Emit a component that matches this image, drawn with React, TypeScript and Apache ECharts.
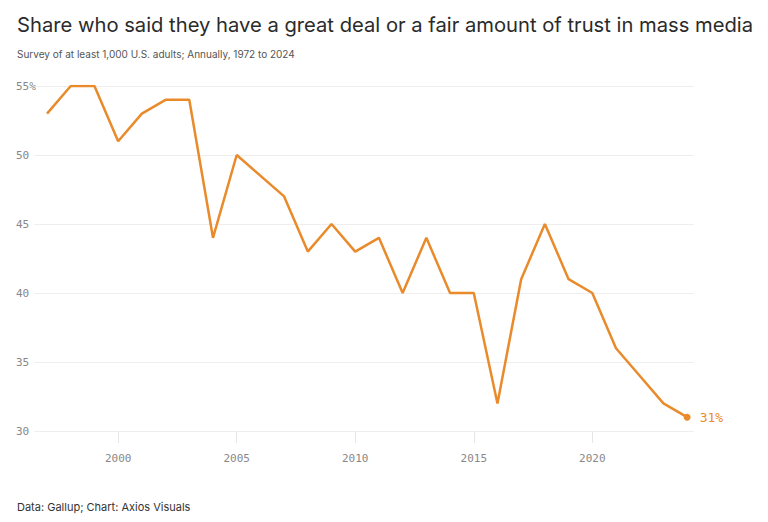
import React, { useEffect, useRef } from "react";
import * as echarts from "echarts";

const years = [1997, 1998, 1999, 2000, 2001, 2002, 2003, 2004, 2005, 2007, 2008, 2009, 2010, 2011, 2012, 2013, 2014, 2015, 2016, 2017, 2018, 2019, 2020, 2021, 2022, 2023, 2024];
const trust = [53, 55, 55, 51, 53, 54, 54, 44, 50, 47, 43, 45, 43, 44, 40, 44, 40, 40, 32, 41, 45, 41, 40, 36, 34, 32, 31];
const xTicks = [2000, 2005, 2010, 2015, 2020];

const ORANGE = "#E98A2B";
const MONO = "'DejaVu Sans Mono', 'Liberation Mono', monospace";
const SANS = "Inter, 'Noto Sans', sans-serif";

export default function App() {
  const ref = useRef<HTMLDivElement>(null);
  useEffect(() => {
    if (!ref.current) return;
    const chart = echarts.init(ref.current, null, { renderer: "svg" });
    const last = years.length - 1;
    const data = years.map((y, i) =>
      i === last
        ? {
            value: [y, trust[i]],
            symbol: "circle",
            symbolSize: 7,
            label: {
              show: true,
              position: "right",
              distance: 9,
              formatter: () => `${trust[i]}%`,
              color: ORANGE,
              fontFamily: MONO,
              fontSize: 13,
            },
          }
        : { value: [y, trust[i]] }
    );
    chart.setOption({
      animation: false,
      backgroundColor: "#ffffff",
      title: [
        {
          text: "Share who said they have a great deal or a fair amount of trust in mass media",
          left: 12,
          top: 9,
          textStyle: { fontFamily: SANS, fontSize: 20.2, fontWeight: 400, color: "#2b2b2b" },
        },
        {
          text: "Survey of at least 1,000 U.S. adults; Annually, 1972 to 2024",
          left: 12,
          top: 44,
          textStyle: { fontFamily: SANS, fontSize: 10, fontWeight: 400, color: "#555555" },
        },
        {
          text: "Data: Gallup; Chart: Axios Visuals",
          left: 12,
          top: 496,
          textStyle: { fontFamily: SANS, fontSize: 11, fontWeight: 400, color: "#333333" },
        },
      ],
      grid: { left: 34, right: 74, top: 86, bottom: 91 },
      xAxis: {
        type: "value",
        min: 1996.45,
        max: 2024.29,
        axisLine: { show: false },
        splitLine: { show: false },
        axisTick: {
          show: true,
          customValues: xTicks,
          length: 12,
          lineStyle: { color: "#e6e6e6" },
        },
        axisLabel: {
          customValues: xTicks,
          color: "#888888",
          fontFamily: MONO,
          fontSize: 11,
          margin: 22,
          formatter: (v: number) => String(v),
        },
      },
      yAxis: {
        type: "value",
        min: 30,
        max: 55,
        interval: 5,
        axisLine: { show: false },
        axisTick: { show: false },
        splitLine: { lineStyle: { color: "#eeeeee", width: 1 } },
        axisLabel: {
          align: "left",
          margin: 18,
          color: "#888888",
          fontFamily: MONO,
          fontSize: 11,
          formatter: (v: number) => (v === 55 ? "55%" : String(v)),
        },
      },
      series: [
        {
          type: "line",
          data,
          symbol: "none",
          lineStyle: { color: ORANGE, width: 2.5 },
          itemStyle: { color: ORANGE },
        },
      ],
    });
    return () => chart.dispose();
  }, []);
  return (
    <div
      ref={ref}
      style={{ position: "fixed", left: 0, top: 0, width: 768, height: 522 }}
    />
  );
}
